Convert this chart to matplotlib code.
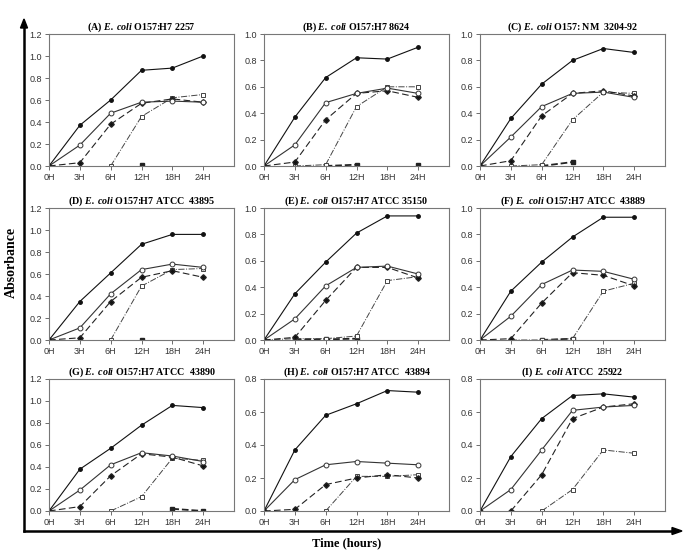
import matplotlib
matplotlib.use("Agg")
import matplotlib.pyplot as plt
import numpy as np

plt.rcParams['font.family'] = ['Liberation Sans', 'DejaVu Sans']
plt.rcParams['mathtext.fontset'] = 'custom'
plt.rcParams['mathtext.bfit'] = 'Liberation Serif:italic:bold'
plt.rcParams['mathtext.rm'] = 'Liberation Serif:bold'

hours = ["0H", "3H", "6H", "12H", "18H", "24H"]

titles = ["(A)", "O157:H7 2257",
          "(B)", "O157:H7 8624",
          "(C)", "O157: NM  3204-92",
          "(D)", "O157:H7 ATCC  43895",
          "(E)", "O157:H7 ATCC 35150",
          "(F)", "O157:H7 ATCC  43889",
          "(G)", "O157:H7 ATCC  43890",
          "(H)", "O157:H7 ATCC  43894",
          "(I)", "ATCC  25922"]
ymax = [1.2, 1.0, 1.0, 1.2, 1.0, 1.0, 1.2, 0.8, 0.8]

N = None
# series per panel: s1 solid/filled, s2 solid/open, s3 dashed/filled, s4 dash-dot/open square, s5 near zero
s1 = [[0, 0.37, 0.60, 0.87, 0.89, 1.00],
      [0, 0.37, 0.67, 0.82, 0.81, 0.90],
      [0, 0.36, 0.62, 0.80, 0.89, 0.86],
      [0, 0.35, 0.61, 0.87, 0.96, 0.96],
      [0, 0.35, 0.59, 0.81, 0.94, 0.94],
      [0, 0.37, 0.59, 0.78, 0.93, 0.93],
      [0, 0.38, 0.57, 0.78, 0.96, 0.94],
      [0, 0.37, 0.58, 0.65, 0.73, 0.72],
      [0, 0.33, 0.56, 0.70, 0.71, 0.69]]
s2 = [[0, 0.19, 0.48, 0.58, 0.59, 0.58],
      [0, 0.16, 0.48, 0.55, 0.59, 0.55],
      [0, 0.22, 0.45, 0.55, 0.56, 0.52],
      [0, 0.11, 0.42, 0.64, 0.69, 0.66],
      [0, 0.16, 0.41, 0.55, 0.56, 0.50],
      [0, 0.18, 0.42, 0.53, 0.52, 0.46],
      [0, 0.19, 0.42, 0.53, 0.50, 0.45],
      [0, 0.19, 0.28, 0.30, 0.29, 0.28],
      [0, 0.13, 0.37, 0.61, 0.63, 0.64]]
s3 = [[0, 0.03, 0.38, 0.57, 0.61, 0.58],
      [0, 0.03, 0.35, 0.55, 0.57, 0.52],
      [0, 0.04, 0.38, 0.55, 0.57, 0.53],
      [0, 0.02, 0.35, 0.57, 0.63, 0.57],
      [0, 0.02, 0.30, 0.55, 0.55, 0.47],
      [0, 0.01, 0.28, 0.51, 0.49, 0.41],
      [0, 0.04, 0.32, 0.52, 0.49, 0.41],
      [0, 0.01, 0.16, 0.20, 0.22, 0.20],
      [N, 0.00, 0.22, 0.56, 0.63, 0.65]]
s4 = [[N, N, 0.00, 0.45, 0.62, 0.65],
      [N, 0.00, 0.01, 0.45, 0.60, 0.60],
      [N, 0.00, 0.01, 0.35, 0.56, 0.55],
      [N, N, 0.00, 0.49, 0.64, 0.65],
      [0, 0.01, 0.01, 0.03, 0.45, 0.48],
      [N, 0.00, 0.00, 0.01, 0.37, 0.43],
      [N, N, 0.00, 0.13, 0.48, 0.46],
      [N, N, 0.00, 0.21, 0.21, 0.22],
      [N, N, 0.00, 0.13, 0.37, 0.35]]
s5 = [[N, N, N, 0.01, N, N],
      [N, N, 0.00, 0.01, N, 0.01],
      [N, N, 0.00, 0.03, N, N],
      [N, N, N, 0.00, N, N],
      [N, 0.005, 0.005, 0.01, N, N],
      [N, N, 0.00, 0.01, N, N],
      [N, N, N, N, 0.02, 0.00],
      [N, N, N, N, N, N],
      [N, N, N, N, N, N]]

W, H = 685, 558
fig = plt.figure(figsize=(W / 100, H / 100), dpi=100)

col_left = [49, 264, 480]
row_top = [34, 208, 379]
pw, ph = 185, 132

x = np.arange(6)
for i in range(9):
    r, c = divmod(i, 3)
    ax = fig.add_axes([col_left[c] / W, 1 - (row_top[r] + ph) / H, pw / W, ph / H])
    y5 = np.array(s5[i], dtype=float)
    ax.plot(x, y5, color='#222222', lw=1.3, ls='--', marker='s', ms=2.8, mfc='#222222')
    ax.plot(x, np.array(s4[i], dtype=float), color='#444444', lw=0.7, ls='-.', marker='s',
            ms=3.2, mfc='white', mew=0.7)
    ax.plot(x, np.array(s3[i], dtype=float), color='#222222', lw=0.8, ls=(0, (6, 3)),
            marker='D', ms=2.8, mfc='#111111')
    ax.plot(x, s2[i], color='#333333', lw=0.8, ls='-', marker='o', ms=3.5, mfc='white', mew=0.7)
    ax.plot(x, s1[i], color='#111111', lw=0.8, ls='-', marker='o', ms=2.5, mfc='#111111')
    ax.set_xlim(0, 6)
    ax.set_ylim(0, ymax[i])
    ax.set_xticks(x)
    ax.set_xticklabels(hours)
    ax.set_yticks(np.arange(0, ymax[i] + 0.01, 0.2))
    ax.yaxis.set_major_formatter(plt.FormatStrFormatter('%.1f'))
    ax.tick_params(labelsize=6.5, length=3, width=0.6, colors='#555555', labelcolor='#333333', pad=2)
    for sp in ax.spines.values():
        sp.set_color('#777777')
        sp.set_linewidth(0.8)
    ax.set_title(titles[2 * i] + r" $\mathbfit{E.\,coli}$ " + titles[2 * i + 1],
                 fontsize=7.2, fontfamily='Liberation Serif', fontweight='bold', pad=3)

# outer frame with arrows
fig.add_artist(plt.Line2D([24 / W, 24 / W], [1 - 531 / H, 1 - 28 / H], color='black', lw=1.8))
fig.add_artist(plt.Line2D([24 / W, 672 / W], [1 - 531 / H, 1 - 531 / H], color='black', lw=1.8))
fig.add_artist(plt.Polygon([[20.5 / W, 1 - 28 / H], [27.5 / W, 1 - 28 / H], [24 / W, 1 - 19 / H]],
                           closed=True, color='black', transform=fig.transFigure))
fig.add_artist(plt.Polygon([[672 / W, 1 - 527.5 / H], [672 / W, 1 - 534.5 / H], [682 / W, 1 - 531 / H]],
                           closed=True, color='black', transform=fig.transFigure))

fig.text(11 / W, 1 - 262 / H, "Absorbance", rotation=90, ha='center', va='center',
         fontsize=10, fontfamily='Liberation Serif', fontweight='bold')
fig.text(347 / W, 1 - 543 / H, "Time (hours)", ha='center', va='center',
         fontsize=9, fontfamily='Liberation Serif', fontweight='bold')

fig.savefig("out.png", dpi=100)
